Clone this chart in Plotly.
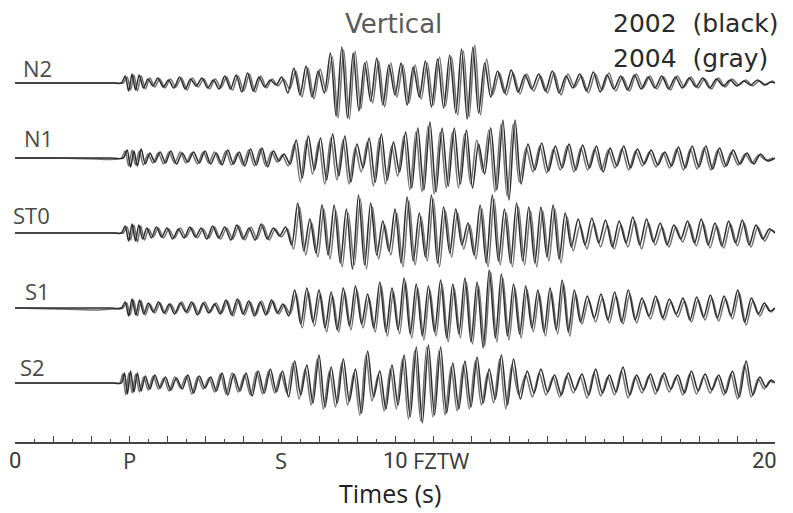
import plotly.graph_objects as go

# ---------------- data (seconds / relative ground-velocity counts) ----------------
STATIONS = ["N2", "N1", "ST0", "S1", "S2"]
TICK_MARKS = ["0", "P", "S", "10", "FZTW", "20"]
TICK_TIMES = [0, 3, 7, 10, 11.2, 20]
# relative clock offset of the 2004 record against 2002 (s), per station
CLOCK_OFFSET_2004 = [0.05, -0.05, 0.05, 0.04, -0.045]

T_N2 = [0, 1.2, 2.2, 2.6, 2.8,
        2.9, 2.99, 3.08, 3.17, 3.27, 3.38, 3.5, 3.63, 3.76, 3.9, 4.04, 4.18, 4.33, 4.48, 4.62, 4.77, 4.92, 5.07,
        5.22, 5.37, 5.52, 5.67, 5.82, 5.97, 6.12, 6.27, 6.42, 6.57, 6.72, 6.87, 7.02,
        7.18, 7.34, 7.5, 7.66, 7.82, 7.98, 8.14, 8.3, 8.45, 8.6, 8.75, 8.9, 9.05, 9.2, 9.36, 9.52, 9.68, 9.84,
        10.0, 10.16, 10.32, 10.48, 10.64, 10.8, 10.96, 11.12, 11.28, 11.44, 11.6, 11.75, 11.9, 12.05, 12.2,
        12.36, 12.52,
        12.7, 12.88, 13.06, 13.24, 13.42, 13.6, 13.78, 13.96, 14.14, 14.32, 14.5, 14.68, 14.86, 15.04, 15.22,
        15.4, 15.58, 15.76, 15.94, 16.12, 16.3, 16.48, 16.66, 16.84, 17.02, 17.2, 17.38, 17.56, 17.74, 17.92,
        18.1, 18.28, 18.46, 18.64, 18.82, 19.0, 19.18, 19.36, 19.54, 19.72, 19.88, 20.0]
N2_2002 = [0, 0, 0, 0, 0,
           7, -8, 9, -7, 8, -5, 4, -3, 5, -4, 3, -5, 6, -6, 4, -3, 5, -5, 3, -6, 7, -6, 8, -9, 10, -8, 6, -4, 3, -2, 6,
           -10, 15, -12, 17, -14, 12, -10, 30, -33, 36, -35, 30, -28, 20, -18, 25, -22, 18, -12, 20,
           -22, 16, -14, 22, -24, 24, -25, 28, -30, 34, -36, 36, -30, 20, -14,
           12, -10, 13, -9, 8, -6, 9, -8, 12, -10, 7, -5, 9, -8, 11, -9, 8, -6, 7, -7,
           8, -6, 6, -5, 7, -6, 6, -5, 5, -4, 5, -5, 4, -3, 3, -3, 2, -2, 3, -2, 1, 0]
N2_2004 = [0, 0, 0, 0, 0,
           6, -7, 8, -8, 7, -6, 5, -4, 4, -5, 4, -4, 5, -7, 5, -4, 4, -6, 4, -5, 6, -7, 7, -8, 9, -9, 7, -5, 4, -3, 4,
           -6, 12, -14, 15, -16, 14, -8, 26, -35, 33, -36, 32, -26, 22, -20, 22, -24, 20, -14, 18,
           -20, 18, -16, 20, -22, 26, -23, 26, -32, 32, -34, 38, -32, 24, -12,
           10, -12, 10, -11, 9, -8, 7, -10, 10, -12, 9, -4, 7, -10, 9, -7, 10, -8, 6, -8,
           9, -5, 7, -6, 6, -7, 7, -4, 6, -5, 4, -6, 5, -4, 4, -2, 3, -3, 2, -2, 2, 0]

T_N1 = [0, 1.2, 2.2, 2.5, 2.85,
        2.95, 3.04, 3.13, 3.22, 3.32, 3.43, 3.55, 3.68, 3.82, 3.96, 4.1, 4.25, 4.4, 4.55, 4.7, 4.85, 5.0, 5.15,
        5.3, 5.45, 5.6, 5.75, 5.9, 6.05, 6.2, 6.35, 6.5, 6.65, 6.8, 6.95, 7.08,
        7.24, 7.4, 7.56, 7.72, 7.88, 8.04, 8.2, 8.36, 8.52, 8.68, 8.84, 9.0, 9.16, 9.32, 9.48, 9.64, 9.8, 9.96,
        10.12, 10.28, 10.44, 10.6, 10.76, 10.92, 11.08, 11.24, 11.4, 11.56, 11.72, 11.88, 12.04, 12.2, 12.36,
        12.52, 12.68, 12.84, 13.0, 13.16, 13.32,
        13.5, 13.68, 13.86, 14.04, 14.22, 14.4, 14.58, 14.76, 14.94, 15.12, 15.3, 15.48, 15.66, 15.84, 16.02,
        16.2, 16.38, 16.56, 16.74, 16.92, 17.1, 17.28, 17.46, 17.64, 17.82, 18.0, 18.18, 18.36, 18.54, 18.72,
        18.9, 19.08, 19.26, 19.44, 19.62, 19.8, 20.0]
N1_2002 = [0, 0, 0, 0, 0,
           8, -9, 7, -8, 9, -6, 5, -4, 6, -5, 7, -6, 5, -4, 6, -5, 7, -6, 5, -7, 8, -6, 6, -8, 9, -7, 10, -9, 7, -3, 4,
           -6, 18, -20, 22, -12, 20, -22, 24, -18, 22, -24, 14, -10, 20, -24, 24, -22, 16, -14, 26,
           -30, 30, -32, 36, -34, 30, -28, 30, -26, 28, -30, 14, -16, 30, -32, 38, -42, 38, -26,
           14, -12, 15, -13, 12, -10, 14, -12, 13, -10, 12, -14, 10, -8, 12, -10, 9, -6, 8, -7,
           6, -8, 11, -10, 12, -9, 12, -11, 10, -8, 8, -6, 5, -6, 4, -3, 0]
N1_2004 = [0, 0, -1, -1.5, 0,
           7, -8, 8, -7, 7, -7, 4, -5, 5, -6, 6, -5, 6, -5, 5, -6, 6, -5, 6, -6, 7, -7, 5, -7, 8, -8, 9, -8, 6, -4, 3,
           -8, 14, -24, 18, -16, 16, -26, 20, -22, 18, -26, 10, -14, 16, -28, 20, -26, 12, -18, 22,
           -32, 26, -34, 32, -36, 26, -30, 26, -30, 24, -26, 18, -14, 28, -34, 34, -38, 34, -24,
           10, -14, 12, -15, 9, -12, 12, -14, 10, -12, 9, -12, 8, -10, 9, -12, 7, -8, 6, -9,
           5, -10, 9, -12, 9, -11, 10, -12, 8, -9, 6, -7, 4, -5, 3, -2, 0]

T_ST0 = [0, 1.2, 2.2, 2.6, 2.8,
         2.9, 2.99, 3.08, 3.17, 3.26, 3.36, 3.47, 3.59, 3.72, 3.86, 4.0, 4.15, 4.3, 4.45, 4.6, 4.75, 4.9, 5.05,
         5.2, 5.36, 5.52, 5.68, 5.84, 6.0, 6.16, 6.32, 6.48, 6.64, 6.8, 6.96,
         7.12, 7.28, 7.44, 7.6, 7.76, 7.92, 8.08, 8.24, 8.4, 8.56, 8.72, 8.88, 9.04, 9.2, 9.36, 9.52, 9.68, 9.84,
         10.0, 10.16, 10.32, 10.48, 10.64, 10.8, 10.96, 11.12, 11.28, 11.44, 11.6, 11.76, 11.92, 12.08, 12.24,
         12.4, 12.56, 12.72, 12.88, 13.04, 13.2, 13.36, 13.52, 13.68, 13.84, 14.0, 14.16, 14.32, 14.48, 14.64,
         14.82, 15.0, 15.18, 15.36, 15.54, 15.72, 15.9, 16.08, 16.26, 16.44, 16.62, 16.8, 16.98, 17.16, 17.34,
         17.52, 17.7, 17.88, 18.06, 18.24, 18.42, 18.6, 18.78, 18.96, 19.14, 19.32, 19.5, 19.68, 19.85, 20.0]
ST0_2002 = [0, 0, 0, 0, 0,
            7, -8, 9, -8, 8, -6, 5, -5, 6, -4, 5, -6, 4, -5, 6, -4, 5, -6, 7, -5, 6, -7, 8, -6, 5, -7, 9, -6, 5, -3,
            6, -12, 30, -18, 14, -20, 28, -22, 28, -30, 24, -36, 38, -32, 30, -22, 12, -18, 24, -30,
            36, -28, 20, -24, 38, -30, 26, -20, 24, -12, 10, -22, 28, -30, 38, -28, 24, -30, 30, -28,
            26, -30, 26, -24, 28, -26, 20, -14,
            14, -12, 15, -10, 13, -14, 12, -10, 16, -12, 14, -9, 10, -12, 8, -6, 12, -10, 14, -12,
            10, -13, 12, -10, 13, -12, 8, -6, 4, 0]
ST0_2004 = [0, 0, 0, 0, 0,
            6, -7, 8, -9, 7, -7, 4, -4, 5, -5, 4, -5, 5, -4, 5, -5, 4, -5, 6, -6, 5, -6, 7, -7, 6, -6, 8, -7, 4, -4,
            4, -16, 26, -22, 10, -24, 24, -26, 22, -34, 20, -32, 34, -36, 26, -26, 8, -22, 20, -34,
            32, -32, 16, -28, 34, -34, 22, -24, 20, -16, 8, -26, 24, -34, 34, -32, 20, -34, 26, -32,
            22, -34, 22, -28, 24, -30, 16, -18,
            8, -16, 10, -14, 8, -16, 8, -14, 12, -16, 10, -12, 6, -14, 6, -9, 9, -13, 10, -15,
            7, -15, 9, -13, 10, -14, 6, -8, 3, 0]

T_S1 = [0, 1.6, 2.1, 2.5, 2.8,
        2.9, 2.99, 3.08, 3.18, 3.28, 3.39, 3.51, 3.64, 3.78, 3.92, 4.06, 4.2, 4.35, 4.5, 4.65, 4.8, 4.95, 5.1,
        5.25, 5.4, 5.55, 5.7, 5.85, 6.0, 6.15, 6.3, 6.45, 6.6, 6.75, 6.9, 7.05,
        7.2, 7.36, 7.52, 7.68, 7.84, 8.0, 8.16, 8.32, 8.48, 8.64, 8.8, 8.96, 9.12, 9.28, 9.44, 9.6, 9.76, 9.92,
        10.08, 10.24, 10.4, 10.56, 10.72, 10.88, 11.04, 11.2, 11.36, 11.52, 11.68, 11.84, 12.0, 12.16, 12.32,
        12.48, 12.64, 12.8, 12.96, 13.12, 13.28, 13.44, 13.6, 13.76, 13.92, 14.08, 14.24, 14.4, 14.56, 14.72,
        14.88,
        15.06, 15.24, 15.42, 15.6, 15.78, 15.96, 16.14, 16.32, 16.5, 16.68, 16.86, 17.04, 17.22, 17.4, 17.58,
        17.76, 17.94, 18.12, 18.3, 18.48, 18.66, 18.84, 19.02, 19.2, 19.38, 19.56, 19.72, 19.86, 20.0]
S1_2002 = [0, 0, 0, 0, 0,
           6, -8, 9, -7, 8, -6, 5, -4, 6, -5, 4, -6, 5, -4, 6, -7, 5, -5, 4, -6, 8, -7, 9, -6, 7, -8, 6, -7, 8, -5, 4,
           -8, 18, -16, 20, -14, 18, -20, 16, -22, 20, -18, 22, -16, 14, -20, 26, -24, 20, -22, 30,
           -26, 24, -28, 22, -24, 28, -30, 24, -26, 30, -34, 26, -40, 38, -30, 34, -28, 24, -26, 22,
           -20, 18, -24, 20, -22, 28, -24, 18, -14,
           12, -10, 14, -12, 16, -14, 18, -12, 10, -8, 12, -10, 9, -6, 10, -12, 11, -9, 13, -10,
           12, -8, 18, -14, 10, -6, 5, -3, 0]
S1_2004 = [0, -1.5, -2, -1, 0,
           5, -7, 8, -8, 7, -7, 4, -5, 5, -6, 4, -5, 6, -5, 5, -6, 6, -4, 5, -5, 7, -8, 8, -7, 6, -7, 7, -6, 7, -6, 3,
           -6, 14, -20, 16, -18, 14, -24, 12, -24, 16, -22, 18, -20, 10, -24, 22, -28, 16, -26, 26,
           -30, 20, -32, 18, -28, 24, -34, 20, -30, 26, -36, 22, -38, 36, -34, 30, -32, 20, -30, 18,
           -24, 14, -28, 16, -26, 24, -28, 14, -16,
           8, -14, 10, -15, 12, -16, 14, -15, 7, -11, 9, -12, 6, -9, 7, -14, 8, -12, 10, -13,
           9, -11, 15, -17, 7, -8, 3, -4, 0]

T_S2 = [0, 1.2, 2.2, 2.6, 2.8,
        2.88, 2.96, 3.04, 3.13, 3.22, 3.32, 3.43, 3.55, 3.68, 3.82, 3.96, 4.1, 4.25, 4.4, 4.55, 4.7, 4.85, 5.0,
        5.15, 5.3, 5.45, 5.6, 5.76, 5.92, 6.08, 6.24, 6.4, 6.56, 6.72, 6.88, 7.04,
        7.2, 7.36, 7.52, 7.68, 7.84, 8.0, 8.16, 8.32, 8.48, 8.64, 8.8, 8.96, 9.12, 9.28, 9.44, 9.6, 9.76, 9.92,
        10.08, 10.24, 10.4, 10.56, 10.72, 10.88, 11.04, 11.2, 11.36, 11.52, 11.68, 11.84, 12.0, 12.16, 12.32,
        12.48, 12.64, 12.8, 12.96, 13.12,
        13.3, 13.48, 13.66, 13.84, 14.02, 14.2, 14.38, 14.56, 14.74, 14.92, 15.1, 15.28, 15.46, 15.64, 15.82,
        16.0, 16.18, 16.36, 16.54, 16.72, 16.9, 17.08, 17.26, 17.44, 17.62, 17.8, 17.98, 18.16, 18.34, 18.52,
        18.7, 18.88, 19.06, 19.24, 19.42, 19.6, 19.76, 19.9, 20.0]
S2_2002 = [0, 0, 0, 0, 0,
           10, -11, 12, -9, 10, -8, 7, -6, 8, -5, 6, -7, 5, -6, 8, -10, 7, -5, 6, -8, 10, -12, 9, -8, 10, -13, 12,
           -10, 14, -9, 12,
           -14, 22, -12, 18, -20, 28, -24, 16, -20, 24, -18, 14, -30, 32, -14, 12, -26, 18, -22, 28,
           -34, 36, -40, 38, -32, 36, -30, 20, -26, 22, -24, 26, -20, 14, -16, 28, -22, 24,
           -16, 12, -10, 14, -9, 8, -12, 10, -7, 9, -12, 14, -10, 8, -9, 16, -12, 8, -7, 9,
           -8, 10, -6, 8, -10, 12, -8, 9, -7, 8, -10, 12, -14, 22, -12, 6, -4, 3, 0]
S2_2004 = [0, 0, 0, 0, 0,
           9, -12, 10, -10, 9, -9, 6, -7, 7, -6, 5, -8, 6, -5, 7, -11, 6, -6, 5, -9, 9, -11, 10, -9, 8, -12, 11,
           -11, 12, -10, 10,
           -10, 20, -16, 14, -22, 24, -26, 12, -24, 20, -22, 10, -32, 28, -18, 8, -28, 14, -26, 24,
           -36, 32, -38, 36, -34, 32, -32, 16, -28, 18, -26, 22, -22, 10, -20, 24, -26, 18,
           -12, 8, -14, 10, -12, 6, -14, 7, -10, 6, -15, 10, -13, 6, -12, 12, -15, 6, -10, 7,
           -11, 8, -9, 6, -12, 9, -11, 6, -10, 6, -12, 9, -16, 18, -14, 4, -6, 2, 0]

TIMES = [T_N2, T_N1, T_ST0, T_S1, T_S2]
REC_2002 = [N2_2002, N1_2002, ST0_2002, S1_2002, S2_2002]
REC_2004 = [N2_2004, N1_2004, ST0_2004, S1_2004, S2_2004]

for t, a, b in zip(TIMES, REC_2002, REC_2004):
    assert len(t) == len(a) == len(b), (len(t), len(a), len(b))

# ---------------- style ----------------
TRACE_GAP = 75
C_BLACK = "#2c2c2c"
C_GRAY = "#707070"
TXT = "#3a3a3a"
SMOOTH = 0.85

fig = go.Figure()
n = len(STATIONS)
for i, st in enumerate(STATIONS):
    base = (n - 1 - i) * TRACE_GAP
    t04 = [0] + [min(20, t + CLOCK_OFFSET_2004[i]) for t in TIMES[i][1:]]
    fig.add_trace(go.Scatter(
        x=t04, y=[base + v for v in REC_2004[i]], mode="lines",
        line=dict(color=C_GRAY, width=1.5, shape="spline", smoothing=SMOOTH),
        name=st + " 2004", hoverinfo="skip", cliponaxis=True))
    fig.add_trace(go.Scatter(
        x=TIMES[i], y=[base + v for v in REC_2002[i]], mode="lines",
        line=dict(color=C_BLACK, width=1.5, shape="spline", smoothing=SMOOTH),
        name=st + " 2002", hoverinfo="skip"))

PLOT_H = 442.0
PLOT_W = 760.0


def py(pix):
    return (PLOT_H - pix) / PLOT_H


def px(pix):
    return (pix - 15) / PLOT_W


def tx(pix):
    return (pix - 15) / 38.0


ann = []
label_px = [(21, 68), (22, 138), (11, 215), (23, 291), (18, 367)]
for st, (lx, ly) in zip(STATIONS, label_px):
    ann.append(dict(x=px(lx), y=py(ly), xref="paper", yref="paper", text=st, showarrow=False,
                    xanchor="left", yanchor="middle",
                    font=dict(family="Open Sans", size=22, color="#4a4a4a")))

ann.append(dict(x=px(393), y=py(24), xref="paper", yref="paper", text="Vertical", showarrow=False,
                xanchor="center", yanchor="middle",
                font=dict(family="DejaVu Sans", size=26, color="#5a5a5a")))
ann.append(dict(x=px(611), y=py(23), xref="paper", yref="paper", text="2002&nbsp;&nbsp;(black)",
                showarrow=False, xanchor="left", yanchor="middle",
                font=dict(family="DejaVu Sans", size=25, color="#2a2a2a")))
ann.append(dict(x=px(611), y=py(59), xref="paper", yref="paper", text="2004&nbsp;&nbsp;(gray)",
                showarrow=False, xanchor="left", yanchor="middle",
                font=dict(family="DejaVu Sans", size=25, color="#2a2a2a")))

for lab, t in zip(TICK_MARKS, TICK_TIMES):
    narrow = lab in ("0", "10", "20")
    ann.append(dict(x=t, y=py(460), xref="x", yref="paper", text=lab, showarrow=False,
                    xanchor="center" if lab != "20" else "right", yanchor="middle",
                    xshift=(4 if lab == "20" else 0),
                    font=dict(family=("Liberation Sans Narrow, Roboto, Open Sans" if narrow else "Open Sans"),
                              size=22, color=TXT)))

ann.append(dict(x=px(390), y=py(493), xref="paper", yref="paper", text="Times (s)", showarrow=False,
                xanchor="center", yanchor="middle",
                font=dict(family="Open Sans", size=25, color="#222222")))

fig.update_layout(
    width=793, height=513,
    margin=dict(l=15, r=18, t=0, b=71, pad=0),
    paper_bgcolor="white", plot_bgcolor="white",
    showlegend=False,
    xaxis=dict(range=[0, 20], showgrid=False, zeroline=False, showline=True,
               linecolor="#444444", linewidth=1.6,
               ticks="inside", tick0=0, dtick=1, ticklen=6, tickwidth=1.2, tickcolor="#444444",
               showticklabels=False,
               minor=dict(dtick=0.5, ticks="inside", ticklen=3, tickwidth=1.1, tickcolor="#444444")),
    yaxis=dict(range=[-59, 383], visible=False, showgrid=False, zeroline=False),
    annotations=ann,
)

fig.write_html("out.html", config={"displayModeBar": False},
               post_script="document.body.style.margin='0';")
